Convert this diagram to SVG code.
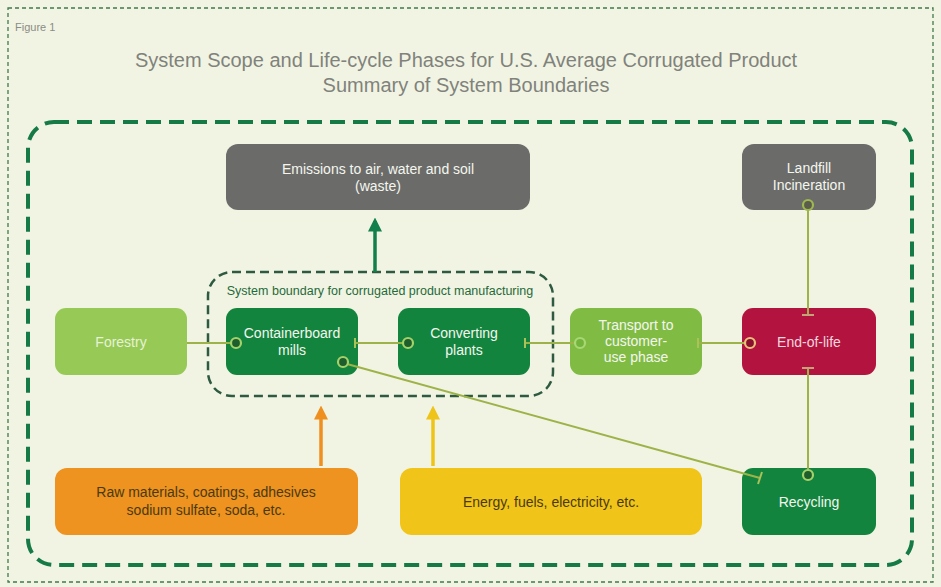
<svg xmlns="http://www.w3.org/2000/svg" width="941" height="587" viewBox="0 0 941 587">
<defs>
<style>
text{font-family:"Liberation Sans","DejaVu Sans",sans-serif;}
.title{font-size:20px;fill:#80827c;text-anchor:middle;}
.lbl{font-size:14px;fill:#f4f6ee;text-anchor:middle;}
.dark{font-size:14px;fill:#4a3a12;text-anchor:middle;}
.conn{stroke:#9db349;stroke-width:2;fill:none;}
.tee{stroke:#a9c25a;stroke-width:2;fill:none;}
.dot{stroke:#a5d16a;stroke-width:2.2;fill:#1d5e2c;}
</style>
<marker id="ahG" markerWidth="4" markerHeight="4" refX="3" refY="2" orient="auto" markerUnits="strokeWidth"><path d="M0,0 L4,2 L0,4 Z" fill="#11804a"/></marker>
<marker id="ahO" markerWidth="4" markerHeight="4" refX="3" refY="2" orient="auto" markerUnits="strokeWidth"><path d="M0,0 L4,2 L0,4 Z" fill="#ee8f1f"/></marker>
<marker id="ahY" markerWidth="4" markerHeight="4" refX="3" refY="2" orient="auto" markerUnits="strokeWidth"><path d="M0,0 L4,2 L0,4 Z" fill="#eec419"/></marker>
</defs>
<rect width="941" height="587" fill="#f2f4e3"/>
<rect x="8" y="8" width="925" height="574" fill="none" stroke="#3f7a4c" stroke-width="1.3" stroke-dasharray="4 3"/>
<text x="15" y="31" style="font-size:11px;fill:#8a8c86">Figure 1</text>
<text class="title" x="466" y="67">System Scope and Life-cycle Phases for U.S. Average Corrugated Product</text>
<text class="title" x="466" y="92">Summary of System Boundaries</text>
<rect x="28" y="122" width="884" height="443" rx="26" fill="none" stroke="#157a46" stroke-width="4" stroke-dasharray="15 8"/>
<g id="boundary">
<rect x="208" y="272" width="345" height="124" rx="24" fill="none" stroke="#2d5a40" stroke-width="2.5" stroke-dasharray="9 5"/>
<text x="380" y="295" style="font-size:12.5px;fill:#1f6a3a;text-anchor:middle">System boundary for corrugated product manufacturing</text>
</g>
<g id="emissions">
<rect x="226" y="144" width="304" height="66" rx="12" fill="#6b6c6a"/>
<text class="lbl" x="378" y="174">Emissions to air, water and soil</text>
<text class="lbl" x="378" y="191">(waste)</text>
</g>
<g id="landfill">
<rect x="742" y="144" width="134" height="66" rx="12" fill="#6b6c6a"/>
<text class="lbl" x="809" y="173">Landfill</text>
<text class="lbl" x="809" y="190">Incineration</text>
</g>
<g id="forestry">
<rect x="55" y="308" width="132" height="67" rx="11" fill="#97c957"/>
<text class="lbl" x="121" y="347" style="fill:#e6f2d4">Forestry</text>
</g>
<g id="mills">
<rect x="226" y="308" width="132" height="67" rx="11" fill="#12843e"/>
<text class="lbl" x="292" y="338">Containerboard</text>
<text class="lbl" x="292" y="355">mills</text>
</g>
<g id="converting">
<rect x="398" y="308" width="132" height="67" rx="11" fill="#12843e"/>
<text class="lbl" x="464" y="338">Converting</text>
<text class="lbl" x="464" y="355">plants</text>
</g>
<g id="transport">
<rect x="570" y="308" width="132" height="67" rx="11" fill="#80bc44"/>
<text class="lbl" x="636" y="330">Transport to</text>
<text class="lbl" x="636" y="346">customer-</text>
<text class="lbl" x="636" y="362">use phase</text>
</g>
<g id="endoflife">
<rect x="742" y="308" width="134" height="67" rx="11" fill="#b3133f"/>
<text class="lbl" x="809" y="347" style="fill:#f4d7df">End-of-life</text>
</g>
<g id="recycling">
<rect x="742" y="468" width="134" height="67" rx="11" fill="#12843e"/>
<text class="lbl" x="809" y="507">Recycling</text>
</g>
<g id="rawmaterials">
<rect x="55" y="468" width="303" height="67" rx="12" fill="#ee9220"/>
<text class="dark" x="206" y="497">Raw materials, coatings, adhesives</text>
<text class="dark" x="206" y="515">sodium sulfate, soda, etc.</text>
</g>
<g id="energy">
<rect x="400" y="468" width="302" height="67" rx="12" fill="#f1c419"/>
<text class="dark" x="551" y="507">Energy, fuels, electricity, etc.</text>
</g>
<g id="connectors">
<line x1="375" y1="272" x2="375" y2="221" stroke="#11804a" stroke-width="3.5" marker-end="url(#ahG)"/>
<line x1="321" y1="466" x2="321" y2="409" stroke="#ee8f1f" stroke-width="3.5" marker-end="url(#ahO)"/>
<line x1="433" y1="466" x2="433" y2="409" stroke="#eec419" stroke-width="3.5" marker-end="url(#ahY)"/>
<line class="conn" x1="187" y1="343" x2="231" y2="343"/>
<circle class="dot" cx="236" cy="343" r="5"/>
<line class="conn" x1="355" y1="343" x2="403" y2="343"/>
<line class="tee" x1="355" y1="338" x2="355" y2="348"/>
<circle class="dot" cx="408" cy="343" r="5"/>
<line class="conn" x1="525" y1="343" x2="575" y2="343"/>
<line class="tee" x1="525" y1="338" x2="525" y2="348"/>
<circle class="dot" cx="580" cy="343" r="5" style="fill:#74b43c;stroke:#a8d873"/>
<line class="conn" x1="698" y1="343" x2="745" y2="343"/>
<line class="tee" x1="698" y1="338" x2="698" y2="348"/>
<circle class="dot" cx="750" cy="343" r="5" style="fill:#8c1030;stroke:#e8c27a"/>
<line class="conn" x1="808" y1="210" x2="808" y2="315"/>
<circle class="dot" cx="808" cy="205" r="5" style="fill:#5b5c4c;stroke:#9fb84f"/>
<line class="tee" x1="802" y1="315" x2="814" y2="315" style="stroke:#c6a27a"/>
<line class="conn" x1="808" y1="368" x2="808" y2="470"/>
<line class="tee" x1="802" y1="368" x2="814" y2="368" style="stroke:#c6a27a"/>
<circle class="dot" cx="808" cy="475" r="5"/>
<line class="conn" x1="347" y1="364" x2="760" y2="478"/>
<circle class="dot" cx="343" cy="362" r="5"/>
<line class="tee" x1="762" y1="472" x2="758" y2="484"/>
</g>
</svg>
